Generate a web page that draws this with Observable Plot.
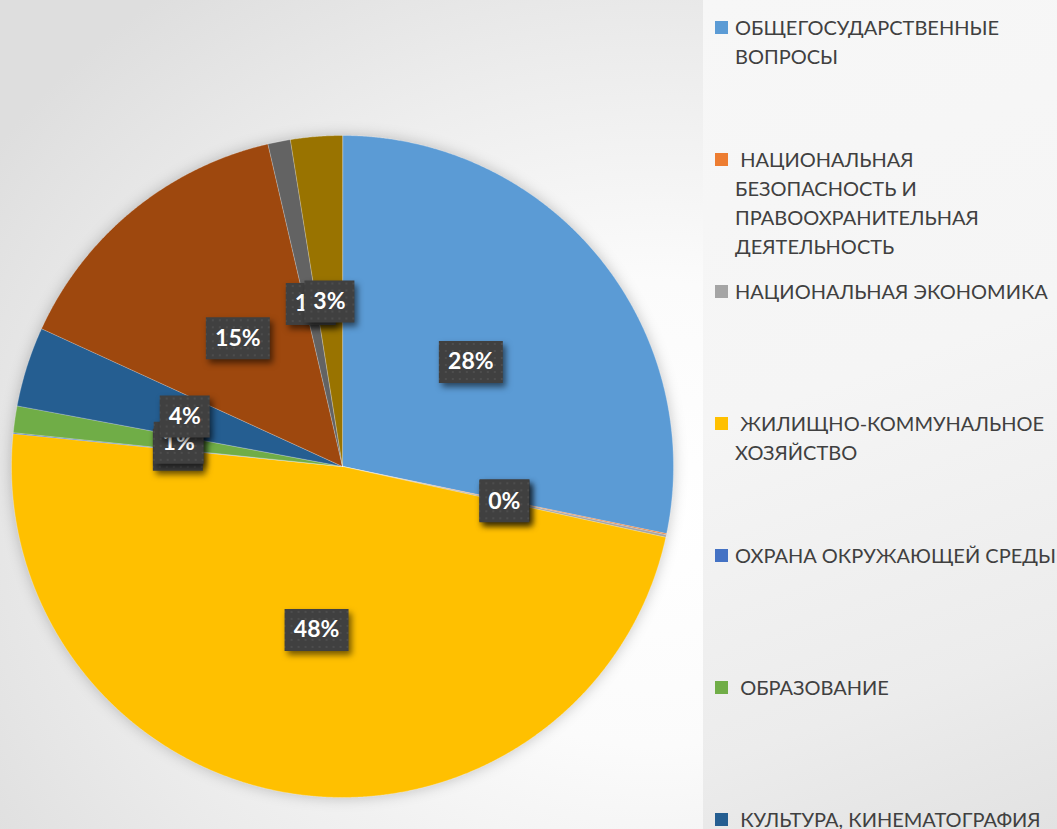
<!DOCTYPE html>
<html>
<head>
<meta charset="utf-8">
<script src="https://cdn.jsdelivr.net/npm/d3@7"></script>
<script src="https://cdn.jsdelivr.net/npm/@observablehq/plot@0.6"></script>
<style>
  html, body { margin: 0; padding: 0; width: 1057px; height: 829px; overflow: hidden; }
  body {
    position: relative;
    background: radial-gradient(ellipse 75% 80% at 62% 62%, #ffffff 0%, #fbfbfb 35%, #ececec 70%, #dedede 100%);
    font-family: Lato, "Open Sans", sans-serif;
  }
  #chart { position: absolute; left: 0; top: 0; }
  #legend {
    position: absolute; left: 703px; top: 0; width: 354px; height: 829px; overflow: hidden;
    background: linear-gradient(160deg, #f7f7f7 0%, #f5f5f5 45%, #ececec 80%, #e2e2e2 100%);
  }
  .item { position: absolute; left: 12px; width: 342px; }
  .sw { position: absolute; left: 0; top: 8px; width: 13px; height: 13px; }
  .lt { position: absolute; left: 20px; width: 322px; font-size: 20px; line-height: 29px; color: #404040; white-space: pre-wrap; }
  svg g[aria-label="line"] { filter: drop-shadow(0 0 7px rgba(0,0,0,0.22)); }
  svg g[aria-label="dot"] path { filter: drop-shadow(3px 4px 3px rgba(0,0,0,0.55)); }
</style>
</head>
<body>
<div id="chart"></div>
<div id="legend"></div>
<script>
const categories = [
  "ОБЩЕГОСУДАРСТВЕННЫЕ ВОПРОСЫ",
  " НАЦИОНАЛЬНАЯ БЕЗОПАСНОСТЬ И ПРАВООХРАНИТЕЛЬНАЯ ДЕЯТЕЛЬНОСТЬ",
  "НАЦИОНАЛЬНАЯ ЭКОНОМИКА",
  " ЖИЛИЩНО-КОММУНАЛЬНОЕ ХОЗЯЙСТВО",
  "ОХРАНА ОКРУЖАЮЩЕЙ СРЕДЫ",
  " ОБРАЗОВАНИЕ",
  " КУЛЬТУРА, КИНЕМАТОГРАФИЯ",
  "СОЦИАЛЬНАЯ ПОЛИТИКА",
  "ФИЗИЧЕСКАЯ КУЛЬТУРА И СПОРТ",
  "СРЕДСТВА МАССОВОЙ ИНФОРМАЦИИ"
];
const values = [28.25, 0.06, 0.12, 48.15, 0.05, 1.3, 3.9, 14.55, 1.1, 2.52];
const colors = ["#5B9BD5", "#ED7D31", "#A5A5A5", "#FFC000", "#4472C4", "#70AD47", "#255E91", "#9E480E", "#636363", "#997300"];
const legendShown = 7; // entries visible in the reference before the legend is cut off

const total = d3.sum(values);
const arcs = d3.pie().sort(null).value(d => d)(values);

// slice outlines in unit-circle data space (y up)
const slicePts = arcs.flatMap((a, i) => {
  const n = Math.max(2, Math.ceil((a.endAngle - a.startAngle) / 0.004));
  const pts = [{cat: categories[i], x: 0, y: 0}];
  for (let k = 0; k <= n; k++) {
    const t = a.startAngle + (a.endAngle - a.startAngle) * k / n;
    pts.push({cat: categories[i], x: Math.sin(t), y: Math.cos(t)});
  }
  return pts;
});

const labels = arcs.map((a, i) => {
  const m = (a.startAngle + a.endAngle) / 2;
  return {cat: categories[i], x: 0.5 * Math.sin(m), y: 0.5 * Math.cos(m), text: Math.round(values[i] / total * 100) + "%"};
});

function boxSymbol(w, h) {
  return {draw(ctx) { ctx.rect(-w / 2, -h / 2, w, h); }};
}

const labelMarks = labels.flatMap(l => [
  Plot.dot([l], {x: "x", y: "y", r: 5, symbol: boxSymbol(22 + 14 * l.text.length, 42), fill: "url(#lblpat)", stroke: "none"}),
  Plot.text([l], {x: "x", y: "y", text: "text", fill: "white", fontSize: 23, fontWeight: "bold", fontFamily: "Lato, 'Open Sans', sans-serif"})
]);

const svg = Plot.plot({
  width: 703,
  height: 829,
  margin: 0,
  style: {background: "transparent", overflow: "visible"},
  x: {domain: [-1, 1], range: [11, 673], axis: null},
  y: {domain: [-1, 1], range: [797, 135], axis: null},
  color: {domain: categories, range: colors},
  marks: [
    Plot.line(slicePts, {x: "x", y: "y", z: "cat", fill: "cat", stroke: "#ffffff", strokeWidth: 0.6, strokeOpacity: 0.45, curve: "linear-closed"}),
    ...labelMarks
  ]
});

const defs = d3.select(svg).insert("defs", ":first-child");
const pat = defs.append("pattern").attr("id", "lblpat").attr("patternUnits", "userSpaceOnUse").attr("width", 7).attr("height", 7);
pat.append("rect").attr("width", 7).attr("height", 7).attr("fill", "#404040");
pat.append("rect").attr("x", 2).attr("y", 2).attr("width", 2).attr("height", 2).attr("fill", "#4d4d4d");

document.getElementById("chart").appendChild(svg);

// legend (only the entries the reference shows; the rest fall below the frame)
const legend = d3.select("#legend");
categories.slice(0, legendShown).forEach((c, i) => {
  const it = legend.append("div").attr("class", "item").style("top", (13 + i * 132) + "px");
  it.append("div").attr("class", "sw").style("background", colors[i]);
  it.append("div").attr("class", "lt").text(c);
});
</script>
</body>
</html>
